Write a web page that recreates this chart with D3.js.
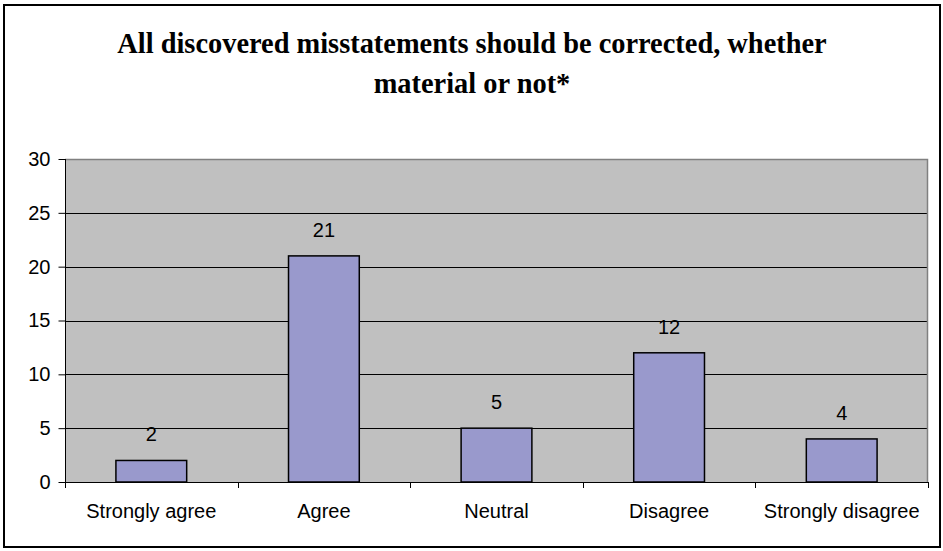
<!DOCTYPE html>
<html>
<head>
<meta charset="utf-8">
<script src="https://cdn.jsdelivr.net/npm/d3@7"></script>
<style>
  html, body { margin: 0; padding: 0; background: #fff; }
  svg { display: block; }
</style>
</head>
<body>
<svg id="chart" width="943" height="551"></svg>
<script>
// Survey responses
const categories = ["Strongly agree", "Agree", "Neutral", "Disagree", "Strongly disagree"];
const counts = [2, 21, 5, 12, 4];
const yTicks = [0, 5, 10, 15, 20, 25, 30];
const titleLines = ["All discovered misstatements should be corrected, whether", "material or not*"];

const svg = d3.select("#chart");
const plot = { left: 65, right: 928, top: 159, bottom: 482 };
const sans = "'Liberation Sans', Arial, sans-serif";

// Outer frame
svg.append("rect")
  .attr("x", 4).attr("y", 5)
  .attr("width", 936).attr("height", 542)
  .attr("fill", "#fff").attr("stroke", "#000").attr("stroke-width", 2);

// Title
svg.append("g").selectAll("text").data(titleLines).join("text")
  .attr("x", 472).attr("y", (d, i) => 53 + i * 40)
  .attr("text-anchor", "middle")
  .attr("font-family", "'Liberation Serif', 'Times New Roman', serif")
  .attr("font-weight", "bold")
  .attr("font-size", 28.4)
  .attr("fill", "#000")
  .text(d => d);

const x = d3.scaleBand().domain(categories).range([plot.left, plot.right]).padding(0);
const y = d3.scaleLinear().domain([0, 30]).range([plot.bottom, plot.top]);
const barW = x.bandwidth() * 0.41;

// Plot area background
svg.append("rect")
  .attr("x", plot.left).attr("y", plot.top)
  .attr("width", plot.right - plot.left).attr("height", plot.bottom - plot.top)
  .attr("fill", "#c0c0c0");

// Grid lines
svg.append("g").selectAll("line").data(yTicks.filter(v => v > 0 && v < 30)).join("line")
  .attr("x1", plot.left).attr("x2", plot.right)
  .attr("y1", d => Math.round(y(d)) + 0.5).attr("y2", d => Math.round(y(d)) + 0.5)
  .attr("stroke", "#000").attr("stroke-width", 1);

// Top and right edges of the plot area
svg.append("path")
  .attr("d", `M${plot.left},${plot.top + 0.5}H${plot.right - 0.5}V${plot.bottom}`)
  .attr("fill", "none").attr("stroke", "#808080").attr("stroke-width", 1.5);

// Bars
svg.append("g").selectAll("rect").data(counts).join("rect")
  .attr("x", (d, i) => x(categories[i]) + x.bandwidth() / 2 - barW / 2)
  .attr("y", d => y(d))
  .attr("width", barW)
  .attr("height", d => y(0) - y(d))
  .attr("fill", "#9999cc")
  .attr("stroke", "#000").attr("stroke-width", 1.5);

// Value labels
svg.append("g").selectAll("text").data(counts).join("text")
  .attr("x", (d, i) => x(categories[i]) + x.bandwidth() / 2)
  .attr("y", d => y(d) - 19)
  .attr("text-anchor", "middle")
  .attr("font-family", sans)
  .attr("font-size", 20)
  .attr("fill", "#000")
  .text(d => d);

// Y axis
const yAxis = d3.axisLeft(y).tickValues(yTicks).tickSize(7).tickPadding(8).tickFormat(d3.format("d"));
const gy = svg.append("g").attr("transform", `translate(${plot.left + 0.5},0)`).call(yAxis);
gy.select(".domain").attr("stroke", "#000").attr("d", `M0,${plot.top}V${plot.bottom}`);
gy.selectAll(".tick line").attr("stroke", "#000");
gy.selectAll(".tick text")
  .attr("font-family", sans)
  .attr("font-size", 20).attr("fill", "#000");

// X axis: ticks sit on category boundaries
const boundaries = d3.range(categories.length + 1).map(i => plot.left + i * x.step());
const gx = svg.append("g");
gx.append("line")
  .attr("x1", plot.left).attr("x2", plot.right)
  .attr("y1", plot.bottom + 0.5).attr("y2", plot.bottom + 0.5)
  .attr("stroke", "#000");
gx.selectAll("line.tick").data(boundaries).join("line")
  .attr("class", "tick")
  .attr("x1", d => Math.round(d) + 0.5).attr("x2", d => Math.round(d) + 0.5)
  .attr("y1", plot.bottom).attr("y2", plot.bottom + 6)
  .attr("stroke", "#000");
gx.selectAll("text").data(categories).join("text")
  .attr("x", d => x(d) + x.bandwidth() / 2)
  .attr("y", 518)
  .attr("text-anchor", "middle")
  .attr("font-family", sans)
  .attr("font-size", 20)
  .attr("fill", "#000")
  .text(d => d);
</script>
</body>
</html>
